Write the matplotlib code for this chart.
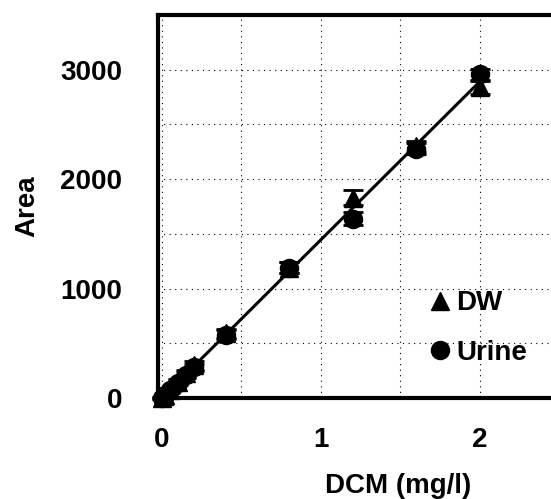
import numpy as np
import matplotlib
matplotlib.use('Agg')
import matplotlib.pyplot as plt

# 데이터
conc = [0, 0.01, 0.02, 0.05, 0.1, 0.15, 0.2, 0.4, 0.8, 1.2, 1.6, 2.0]
dw = [0, 15, 30, 75, 150, 225, 300, 590, 1190, 1830, 2300, 2840]
dw_err = [10, 10, 15, 20, 25, 30, 40, 40, 50, 70, 50, 60]
urine = [0, 14, 28, 70, 140, 210, 280, 580, 1190, 1640, 2280, 2960]
urine_err = [10, 10, 15, 20, 25, 30, 35, 40, 50, 60, 50, 50]

plt.rcParams['font.family'] = ['Liberation Sans', 'DejaVu Sans']
plt.rcParams['font.weight'] = 'bold'

fig = plt.figure(figsize=(5.51, 4.99), dpi=100)
ax = fig.add_axes([158/551, 101/499, 3.025*159/551, 383/499])

# 회귀선
x = np.array(conc)
y = (np.array(dw) + np.array(urine)) / 2
slope = np.sum(x*y) / np.sum(x*x)
ax.plot([0, 2.0], [0, slope*2.0], color='black', lw=2.2, zorder=2)

ax.errorbar(conc, dw, yerr=dw_err, fmt='^', color='black', ms=13,
            capsize=7, capthick=2, elinewidth=2, label='DW', zorder=3,
            clip_on=False)
ax.errorbar(conc, urine, yerr=urine_err, fmt='o', color='black', ms=13,
            capsize=7, capthick=2, elinewidth=2, label='Urine', zorder=3,
            clip_on=False)

ax.set_xlim(-0.025, 3.0)
ax.set_ylim(0, 3500)
ax.set_xticks([0, 1, 2])
ax.set_xticks([0.5, 1.5, 2.5], minor=True)
ax.set_yticks([0, 1000, 2000, 3000])
ax.set_yticks([500, 1500, 2500], minor=True)
ax.grid(True, which='both', color='black', ls=(0, (1, 4)), lw=0.8)
ax.tick_params(which='both', length=0)
ax.tick_params(axis='y', labelsize=20, pad=26)
ax.tick_params(axis='x', labelsize=20, pad=21)
for s in ax.spines.values():
    s.set_linewidth(3)

ax.set_xlabel('DCM (mg/l)', fontsize=20, fontweight='bold', labelpad=14)
ax.set_ylabel('Area', fontsize=20, fontweight='bold', labelpad=14)

h, l = ax.get_legend_handles_labels()
h = [hh[0] for hh in h]
ax.legend(h, l, loc='upper left', bbox_to_anchor=(0.54, 0.31), frameon=False,
          fontsize=20, handlelength=0.8, handletextpad=0.2, labelspacing=0.85,
          borderaxespad=0)

plt.savefig('out.png', dpi=100)
